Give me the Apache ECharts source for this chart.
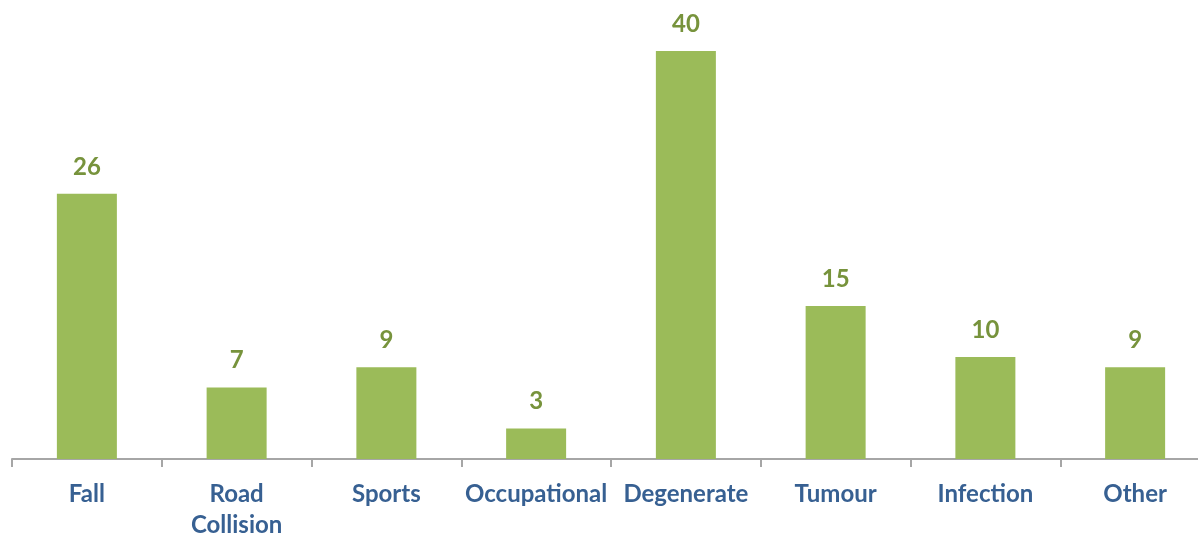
<!DOCTYPE html>
<html>
<head>
<meta charset="utf-8">
<script src="https://cdn.jsdelivr.net/npm/echarts@6/dist/echarts.min.js"></script>
<style>
  html, body { margin: 0; padding: 0; background: #fff; }
  #chart { width: 1198px; height: 534px; }
</style>
</head>
<body>
<div id="chart"></div>
<script>
const categories = ['Fall', 'Road Collision', 'Sports', 'Occupational', 'Degenerate', 'Tumour', 'Infection', 'Other']
const counts = [26, 7, 9, 3, 40, 15, 10, 9]

const chart = echarts.init(document.getElementById('chart'))
chart.setOption({
  animation: false,
  // the last category runs a bit past the right edge of the picture
  grid: { left: 12, width: 1198, top: 51, bottom: 75, outerBoundsMode: 'none', containLabel: false },
  xAxis: {
    type: 'category',
    data: categories,
    axisLine: { lineStyle: { color: '#a6a6a6', width: 2 } },
    axisTick: { show: true, interval: 0, length: 8, lineStyle: { color: '#a6a6a6', width: 2 } },
    axisLabel: {
      interval: 0,
      margin: 20,
      color: '#376092',
      fontFamily: 'Lato',
      fontWeight: 'bold',
      fontSize: 24,
      lineHeight: 31,
      formatter: v => v.replace(' ', '\n')
    }
  },
  yAxis: { type: 'value', min: 0, max: 40, show: false, splitLine: { show: false } },
  series: [{
    type: 'bar',
    data: counts,
    barWidth: 60,
    itemStyle: { color: '#9bbb59' },
    label: {
      show: true,
      position: 'top',
      distance: 15,
      color: '#77933c',
      fontFamily: 'Lato',
      fontWeight: 'bold',
      fontSize: 24
    }
  }]
})
</script>
</body>
</html>
